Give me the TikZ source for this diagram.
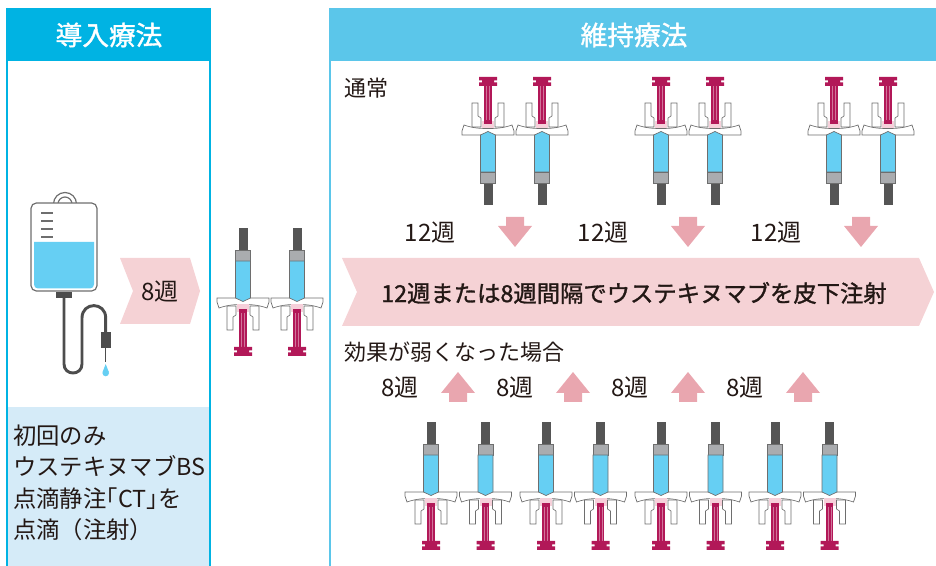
\documentclass[tikz,border=0pt]{standalone}
\usepackage{fontspec}
\setmainfont{Noto Sans CJK JP}
\newfontfamily\semibold[FakeBold=1.3]{Noto Sans CJK JP}
\usetikzlibrary{positioning}

\definecolor{headcyan}{RGB}{0,179,227}
\definecolor{headsky}{RGB}{91,198,234}
\definecolor{notepale}{RGB}{213,235,248}
\definecolor{bandpink}{RGB}{245,210,213}
\definecolor{arrowpink}{RGB}{233,166,175}
\definecolor{ink}{RGB}{35,24,21}
\definecolor{drug}{RGB}{102,207,243}
\definecolor{rodred}{RGB}{178,24,88}
\definecolor{stopper}{RGB}{246,208,218}
\definecolor{hubgray}{RGB}{85,85,85}
\definecolor{capgray}{RGB}{170,172,175}
\definecolor{linegray}{RGB}{110,110,110}
\definecolor{tubegray}{RGB}{77,77,77}

\newcommand\halfbr[1]{{\addfontfeature{RawFeature=+halt}#1}}

\begin{document}
\begin{tikzpicture}
[x=0.75pt,y=-0.75pt,
 txt/.style={text=ink,inner sep=0pt,font=\fontsize{16.5}{20}\selectfont},
 weeks/.style={text=ink,inner sep=0pt,font=\fontsize{18}{21}\selectfont},
 headtxt/.style={text=white,inner sep=0pt,font=\fontsize{20}{24}\selectfont\semibold},
 thin/.style={draw=linegray,line width=0.5pt},
 tube/.style={tubegray,line width=2.2pt},
 syringe/.pic={
  % needle hub and cap
  \fill[hubgray] (-4.5,-75) rectangle (4.5,-52);
  % flange
  \filldraw[thin,fill=white] (-26,-5) -- (26,-5) -- (26,-1) -- (24,5)
     .. controls (14,1.5) and (6,1.5) .. (0,1.5)
     .. controls (-6,1.5) and (-14,1.5) .. (-24,5) -- (-26,-1) -- cycle;
  \filldraw[thin,fill=capgray] (-7.5,-53) rectangle (7.5,-42);
  % barrel
  \filldraw[thin,fill=drug] (-7.5,-42) -- (7.5,-42) -- (7.5,-5) -- (0,-1.5) -- (-7.5,-5) -- cycle;
  % plunger
  \fill[stopper] (-6,1.5) rectangle (6,9);
  \fill[rodred] (-3.8,6) rectangle (3.8,45);
  \draw[rodred!60!white,line width=0.3pt] (-1.5,10) -- (-1.5,44) (1.5,10) -- (1.5,44);
  \fill[rodred] (-9,44) rectangle (9,47.5) (-6,47.5) rectangle (6,49.5) (-9,49.5) rectangle (9,53);
  % finger grip
  \filldraw[thin,fill=white] (-16,3) -- (-16,27) -- (-10,27) -- (-10,14) -- (-7,12) -- (-7,3) -- cycle;
  \filldraw[thin,fill=white] (16,3) -- (16,27) -- (10,27) -- (10,14) -- (7,12) -- (7,3) -- cycle;
 },
 downarrow/.pic={\fill[arrowpink] (-9,0) -- (9,0) -- (9,9) -- (17,9) -- (0,30) -- (-17,9) -- (-9,9) -- cycle;},
]
\useasboundingbox (0,0) rectangle (936,566);

% panels
\fill[notepale] (7,407) rectangle (210,566);
\draw[headcyan,line width=1.1pt] (7,8) -- (7,566) (210,8) -- (210,566);
\fill[headcyan] (7,8) rectangle (211,61);
\draw[headsky,line width=1.1pt] (330,8) -- (330,566);
\fill[headsky] (329,8) rectangle (936,61);
\node[headtxt] (intro) at (109,35) {導入療法};
\node[headtxt] (maint) at (634,35) {維持療法};

% drip bag
\begin{scope}
\clip (40,180) rectangle (90,204);
\draw[linegray,line width=0.9pt] (65,204) circle[radius=11.5] (65,204) circle[radius=7];
\end{scope}
\filldraw[draw=linegray,fill=white,line width=0.9pt,rounded corners=4pt] (31,203) rectangle (97,291);
\fill[drug] (34,242) -- (94,242) [rounded corners=3pt] -- (94,288.5) -- (34,288.5) [sharp corners] -- cycle;
\draw[linegray,line width=0.9pt] (41,213) -- (53,213) (41,221) -- (53,221) (41,229) -- (53,229) (41,237) -- (53,237);
\fill[tubegray] (56,292) rectangle (72,298);
\draw[tube] (64,298) -- (64,364) .. controls (64,376) and (82,376) .. (82,364)
  -- (82,318) .. controls (82,301.5) and (105.7,301.5) .. (105.7,318) -- (105.7,333);
\fill[tubegray] (100.5,332) rectangle (111,348);
\draw[tubegray,line width=1.1pt] (105.7,348) -- (105.7,362);
\fill[drug] (105.7,373) circle[radius=3.3];
\fill[drug] (102.6,372) -- (105.7,364) -- (108.8,372) -- cycle;

% chevrons
\fill[bandpink] (120,258) -- (190,258) -- (200,291) -- (190,324) -- (120,324) -- (133,291) -- cycle;
\node[weeks] (first) at (160,292) {8週};
\fill[bandpink] (342,258) -- (919,258) -- (934,292) -- (919,326) -- (342,326) -- (357,292) -- cycle;
\node[text=ink,inner sep=0pt,font=\fontsize{17.5}{21}\selectfont\semibold] (band) at (634,293)
  {12週または8週間隔でウステキヌマブを皮下注射};

% syringes
\pic at (243,303) {syringe};
\pic at (297,303) {syringe};
\foreach \x in {488,661,834}
  {\pic[yscale=-1] at (\x,130) {syringe};
   \pic[yscale=-1] at (\x+54,130) {syringe};}
\foreach \x in {431,546,661,775}
  {\pic at (\x,497) {syringe};
   \pic at (\x+54.5,497) {syringe};}

% intervals
\node[txt,anchor=west] (usual) at (344,88) {通常};
\node[txt,anchor=west] (weak) at (344,352) {効果が弱くなった場合};
\foreach \x/\n in {430/a,603/b,776/c}
  {\node[weeks] (q\n) at (\x,233) {12週};
   \pic at (\x+85,217) {downarrow};}
\foreach \x/\n in {400/a,515/b,630/c,745/d}
  {\node[weeks] (e\n) at (\x,388) {8週};
   \pic[yscale=-1] at (\x+58,402) {downarrow};}

\node[txt,anchor=north west,align=left,font=\fontsize{17.5}{23.3}\selectfont] (note) at (13,425)
  {初回のみ\\ウステキヌマブBS\\点滴静注\halfbr{「}CT\halfbr{」}を\\点滴（注射）};
\end{tikzpicture}
\end{document}
